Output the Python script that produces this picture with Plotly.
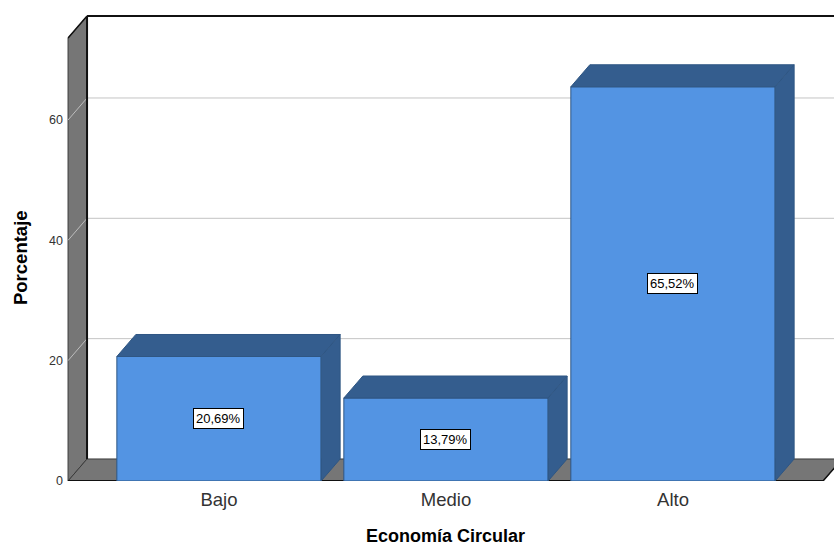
import plotly.graph_objects as go

categories = ["Bajo", "Medio", "Alto"]
percentages = [20.69, 13.79, 65.52]
bar_labels = ["20,69%", "13,79%", "65,52%"]
y_ticks = [0, 20, 40, 60]

# geometry (data units)
x_pos = list(range(len(categories)))
W = 0.9            # bar width
DX = 0.0837        # depth offset in x
DY = 3.66          # depth offset in y
XMIN, XMAX = -0.6828, 2.7093
YMAX = 77.95
WALLX = -0.665
WALLTOP = 77.28
FLOORR = 2.661

FRONT = "#5394e3"
DARK = "#345d8e"
EDGE = "#2f5683"
WALL = "#767676"
FONT = "Arial, Liberation Sans"

fig = go.Figure()

shapes = []
# left wall
shapes.append(dict(type="path", layer="below",
                   path=f"M{WALLX},0 L{WALLX},{WALLTOP-DY} L{WALLX+DX},{WALLTOP} L{WALLX+DX},{DY} Z",
                   fillcolor=WALL, line=dict(color="#3a3a3a", width=1)))
# floor
shapes.append(dict(type="path", layer="below",
                   path=f"M{WALLX},0 L{FLOORR},0 L{FLOORR+DX},{DY} L{WALLX+DX},{DY} Z",
                   fillcolor=WALL, line=dict(color="#3a3a3a", width=1)))
# gridlines
for v in y_ticks[1:]:
    shapes.append(dict(type="line", layer="below", x0=WALLX, y0=v, x1=WALLX+DX, y1=v+DY,
                       line=dict(color="#bdbdbd", width=1)))
    shapes.append(dict(type="line", layer="below", x0=WALLX+DX, y0=v+DY, x1=XMAX, y1=v+DY,
                       line=dict(color="#c4c4c4", width=1)))
# strong edges
shapes.append(dict(type="line", layer="below", x0=WALLX+DX, y0=DY, x1=WALLX+DX, y1=WALLTOP,
                   line=dict(color="#111111", width=2)))
shapes.append(dict(type="line", layer="below", x0=WALLX+DX, y0=WALLTOP, x1=XMAX, y1=WALLTOP,
                   line=dict(color="#111111", width=2)))
shapes.append(dict(type="line", layer="below", x0=WALLX, y0=WALLTOP-DY, x1=WALLX+DX, y1=WALLTOP,
                   line=dict(color="#111111", width=1.5)))
shapes.append(dict(type="line", layer="below", x0=WALLX, y0=0, x1=FLOORR, y1=0,
                   line=dict(color="#111111", width=2)))
shapes.append(dict(type="line", layer="below", x0=FLOORR, y0=0, x1=FLOORR+DX, y1=DY,
                   line=dict(color="#111111", width=1.5)))

# 3D faces of bars (top and side) computed from values
for x, v in zip(x_pos, percentages):
    l, r = x - W/2, x + W/2
    fig.add_trace(go.Scatter(
        x=[l, l+DX, r+DX, r, l], y=[v, v+DY, v+DY, v, v],
        fill="toself", fillcolor=DARK, mode="lines",
        line=dict(color=EDGE, width=1), hoverinfo="skip", showlegend=False))
    fig.add_trace(go.Scatter(
        x=[r, r+DX, r+DX, r, r], y=[v, v+DY, DY, 0, v],
        fill="toself", fillcolor=DARK, mode="lines",
        line=dict(color=EDGE, width=1), hoverinfo="skip", showlegend=False))

fig.add_trace(go.Bar(x=x_pos, y=percentages, width=W, marker=dict(color=FRONT, line=dict(color=EDGE, width=1)),
                     showlegend=False, hoverinfo="skip"))

annotations = []
for x, v, t in zip(x_pos, percentages, bar_labels):
    annotations.append(dict(x=x, y=v/2, text=t, showarrow=False, xref="x", yref="y",
                            font=dict(family=FONT, size=13, color="black"),
                            bgcolor="white", bordercolor="black", borderwidth=1, borderpad=2))
annotations.append(dict(x=1, y=0, xref="x", yref="paper", yanchor="middle", yshift=-55,
                        text="<b>Economía Circular</b>", showarrow=False, borderpad=0,
                        font=dict(family=FONT, size=18, color="black")))
annotations.append(dict(x=0, y=37.06, xref="paper", yref="y", xanchor="center", xshift=-44,
                        text="<b>Porcentaje</b>", textangle=-90, showarrow=False,
                        font=dict(family=FONT, size=18.5, color="black")))

fig.update_layout(
    width=834, height=547,
    margin=dict(l=64, r=0, t=12, b=66),
    plot_bgcolor="white", paper_bgcolor="white",
    shapes=shapes, annotations=annotations,
    xaxis=dict(range=[XMIN, XMAX], tickvals=x_pos, ticktext=categories, showgrid=False,
               zeroline=False, showline=False, ticks="", ticklabelstandoff=5,
               tickfont=dict(family=FONT, size=18.5, color="#333333")),
    yaxis=dict(range=[0, YMAX], tickvals=y_ticks, showgrid=False, zeroline=False,
               showline=False, ticks="",
               tickfont=dict(family=FONT, size=12.5, color="#333333")),
)

fig.write_html("out.html")
